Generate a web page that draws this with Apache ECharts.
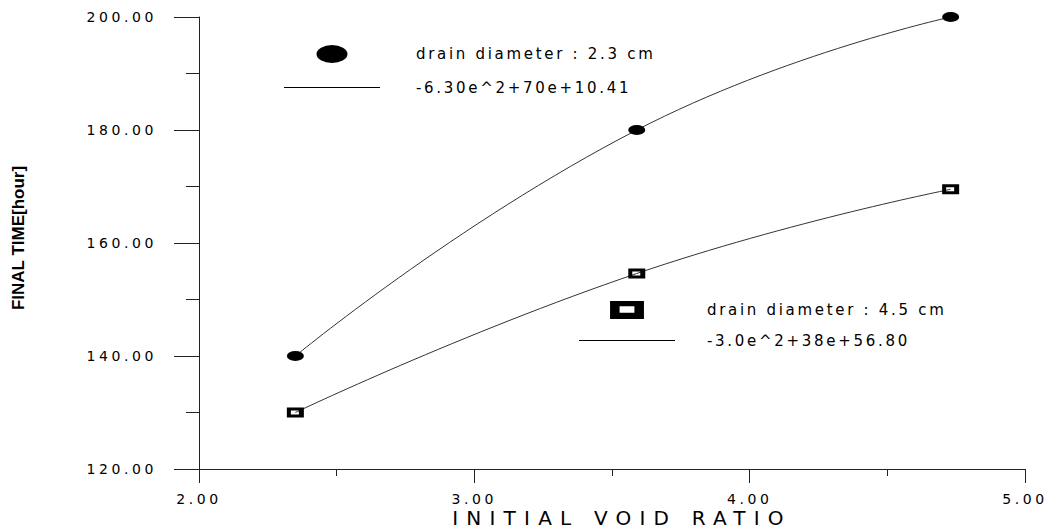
<!DOCTYPE html>
<html>
<head>
<meta charset="utf-8">
<script src="https://cdn.jsdelivr.net/npm/echarts@6/dist/echarts.min.js"></script>
<style>
  html, body { margin: 0; padding: 0; background: #ffffff; }
  #chart { width: 1056px; height: 531px; }
  #chart text[style*="14px"] { letter-spacing: 3.6px; }
  #chart text[style*="15px"] { letter-spacing: 2.7px; }
  #chart text[style*="20px"] { letter-spacing: 8.2px; }
</style>
</head>
<body>
<div id="chart"></div>
<script>
// ---- data ----
const voidRatio = [2.35, 3.59, 4.73];
const time23 = [140, 180, 200];        // drain diameter 2.3 cm
const time45 = [130, 154.6, 169.5];    // drain diameter 4.5 cm
const markerNames = ['drain diameter : 2.3 cm', 'drain diameter : 4.5 cm'];
const fitNames = ['-6.30e^2+70e+10.41', '-3.0e^2+38e+56.80'];
const xTicks = [2, 3, 4, 5];
const yTicks = [120, 140, 160, 180, 200];
const xTitle = 'INITIAL VOID RATIO';
const yTitle = 'FINAL TIME[hour]';

const ellipseSym = 'path://M0,5A8.5,5,0,1,1,17,5A8.5,5,0,1,1,0,5Z';
const squareSym = 'path://M0,0H17V10H0Z M4,3V7H12V3Z';
const ellipseIcon = 'path://M0,9A15.5,9,0,1,1,31,9A15.5,9,0,1,1,0,9Z';
const squareIcon = 'path://M0,0H32V17H0Z M9,5V11H23V5Z';
const lineIcon = 'path://M0,0H96V1H0Z';

const pts = (ys) => voidRatio.map((x, i) => [x, ys[i]]);
const fmt2 = (v) => v.toFixed(2);

const chart = echarts.init(document.getElementById('chart'), null, { renderer: 'svg' });
chart.setOption({
  animation: false,
  backgroundColor: '#ffffff',
  grid: { left: 199, right: 31, top: 17, bottom: 62, containLabel: false, outerBoundsMode: 'none' },
  xAxis: {
    type: 'value',
    min: xTicks[0], max: xTicks[xTicks.length - 1], interval: xTicks[1] - xTicks[0],
    name: xTitle, nameLocation: 'middle', nameGap: 39, nameMoveOverlap: false,
    nameTextStyle: { fontFamily: 'DejaVu Sans', fontSize: 20, color: '#000', padding: [0, 0, 0, 20] },
    axisLine: { show: true, onZero: false, lineStyle: { color: '#222', width: 1 } },
    axisTick: { show: true, length: 14, lineStyle: { color: '#222' } },
    minorTick: { show: true, splitNumber: 2, length: 7, lineStyle: { color: '#222' } },
    axisLabel: { formatter: fmt2, margin: 23, fontFamily: 'DejaVu Sans', fontSize: 14, color: '#000' },
    splitLine: { show: false }
  },
  yAxis: {
    type: 'value',
    min: yTicks[0], max: yTicks[yTicks.length - 1], interval: yTicks[1] - yTicks[0],
    name: yTitle, nameLocation: 'middle', nameGap: 172, nameMoveOverlap: false,
    nameTextStyle: { fontFamily: 'Liberation Sans', fontSize: 17, fontWeight: 'bold', color: '#000', padding: [0, 0, 0, 10] },
    axisLine: { show: true, onZero: false, lineStyle: { color: '#222', width: 1 } },
    axisTick: { show: true, length: 25, lineStyle: { color: '#222' } },
    minorTick: { show: true, splitNumber: 2, length: 13, lineStyle: { color: '#222' } },
    axisLabel: { formatter: fmt2, margin: 42, fontFamily: 'DejaVu Sans', fontSize: 14, color: '#000' },
    splitLine: { show: false }
  },
  legend: [
    {
      left: 284, top: 45, padding: 0, orient: 'vertical', itemWidth: 96, itemHeight: 18, itemGap: 17,
      selectedMode: false,
      textStyle: { fontFamily: 'DejaVu Sans', fontSize: 15, color: '#000', padding: [0, 0, 0, 31] },
      data: [{ name: markerNames[0], icon: ellipseIcon }, { name: fitNames[0], icon: lineIcon }]
    },
    {
      left: 579, top: 301, padding: 0, orient: 'vertical', itemWidth: 96, itemHeight: 18, itemGap: 14,
      selectedMode: false,
      textStyle: { fontFamily: 'DejaVu Sans', fontSize: 15, color: '#000', padding: [0, 0, 0, 27] },
      data: [{ name: markerNames[1], icon: squareIcon }, { name: fitNames[1], icon: lineIcon }]
    }
  ],
  series: [
    {
      name: fitNames[0], type: 'line', data: pts(time23), smooth: true, symbol: 'none',
      lineStyle: { color: '#333', width: 1 }, itemStyle: { color: '#000' }, silent: true, z: 2
    },
    {
      name: fitNames[1], type: 'line', data: pts(time45), smooth: true, symbol: 'none',
      lineStyle: { color: '#333', width: 1 }, itemStyle: { color: '#000' }, silent: true, z: 2
    },
    {
      name: markerNames[0], type: 'scatter', data: pts(time23), symbol: ellipseSym, symbolSize: [17, 10],
      itemStyle: { color: '#000', opacity: 1 }, z: 5
    },
    {
      name: markerNames[1], type: 'scatter', data: pts(time45), symbol: squareSym, symbolSize: [17, 10],
      itemStyle: { color: '#000', opacity: 1 }, z: 5
    }
  ]
});
</script>
</body>
</html>
